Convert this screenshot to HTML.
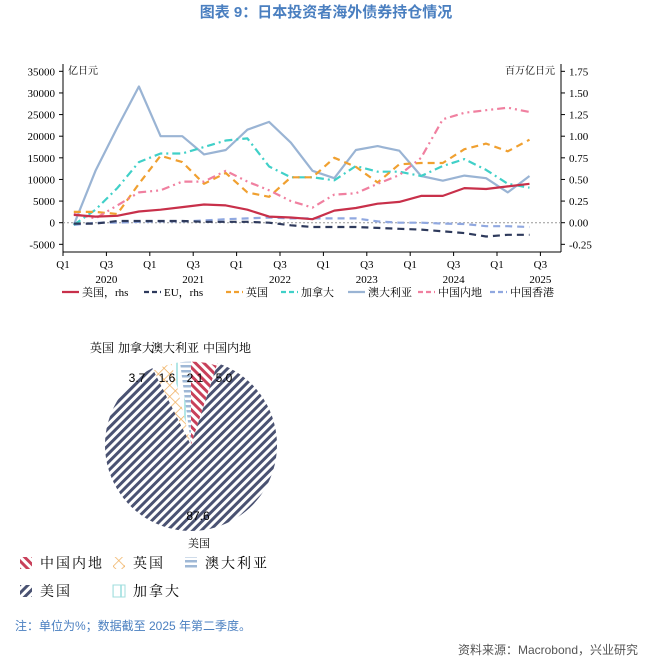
<!DOCTYPE html>
<html><head><meta charset="utf-8"><style>
body{margin:0;background:#fff;width:653px;height:660px;overflow:hidden;font-family:"Liberation Sans","Noto Sans CJK SC",sans-serif;}
svg text{font-family:"Liberation Serif","Noto Serif CJK SC","Noto Sans CJK SC",serif;}
</style></head><body>
<svg id="c" width="653" height="660" xmlns="http://www.w3.org/2000/svg">
<defs>
<pattern id="pUS" width="6" height="6" patternUnits="userSpaceOnUse" patternTransform="rotate(45)"><rect width="6" height="6" fill="#fff"/><rect width="3" height="6" fill="#4a5272"/></pattern>
<pattern id="pCN" width="6" height="6" patternUnits="userSpaceOnUse" patternTransform="rotate(-45)"><rect width="6" height="6" fill="#fff"/><rect width="3" height="6" fill="#c8405a"/></pattern>
<pattern id="pUK" width="8" height="8" patternUnits="userSpaceOnUse" patternTransform="rotate(45)"><rect width="8" height="8" fill="#fff"/><line x1="0" y1="0" x2="8" y2="0" stroke="#f0b060" stroke-width="1.5"/><line x1="0" y1="0" x2="0" y2="8" stroke="#f0b060" stroke-width="1.5"/></pattern>
<pattern id="pCA" width="8" height="8" patternUnits="userSpaceOnUse"><rect width="8" height="8" fill="#fff"/><line x1="1" y1="0" x2="1" y2="8" stroke="#7fd6d6" stroke-width="1.2"/></pattern>
<pattern id="pAU" width="6" height="5" patternUnits="userSpaceOnUse"><rect width="6" height="5" fill="#fff"/><rect y="0" width="6" height="2.5" fill="#9fb8d6"/></pattern>
</defs>
<text x="326" y="17" text-anchor="middle" font-size="15" font-weight="bold" fill="#4a7fc0" style="font-family:'Liberation Sans','Noto Sans CJK SC',sans-serif">图表 9：日本投资者海外债券持仓情况</text>
<g id="line"></g>
<g id="pie"></g>
<text x="15" y="630" font-size="12" fill="#4a7fc0" style="font-family:'Liberation Sans','Noto Sans CJK SC',sans-serif">注：单位为%；数据截至 2025 年第二季度。</text>
<text x="638" y="654" text-anchor="end" font-size="12" fill="#555" style="font-family:'Liberation Sans','Noto Sans CJK SC',sans-serif">资料来源：Macrobond，兴业研究</text>
</svg>
<script>
const lhsTicks=[35000,30000,25000,20000,15000,10000,5000,0,-5000];
const rhsTicks=[1.75,1.5,1.25,1.0,0.75,0.5,0.25,0,-0.25];
const xLabels=["Q1","Q3","Q1","Q3","Q1","Q3","Q1","Q3","Q1","Q3","Q1","Q3"];
const years=["2020","2021","2022","2023","2024","2025"];
const usRhs=[0.09,0.07,0.08,0.13,0.15,0.18,0.21,0.20,0.15,0.07,0.06,0.04,0.14,0.17,0.22,0.24,0.31,0.31,0.40,0.39,0.42,0.45];
const euRhs=[-0.01,-0.01,0.02,0.02,0.02,0.02,0.01,0.01,0.01,0.0,-0.03,-0.05,-0.05,-0.05,-0.06,-0.07,-0.08,-0.10,-0.12,-0.16,-0.14,-0.14];
const uk=[2500,2500,2000,9000,15500,14000,9000,11500,7000,6000,10500,10500,15000,12900,9300,13500,13800,13800,17000,18300,16500,19200];
const canada=[-500,3000,8000,14000,16000,16000,17500,19000,19500,13000,10500,10500,9800,13100,11800,11800,10800,13100,14700,12200,9000,8100];
const australia=[-500,12000,22000,31500,20000,20000,15800,16800,21500,23300,18500,12000,10300,16800,17700,16650,10800,9700,10900,10300,7000,10800];
const chinaMainland=[2000,1000,4000,7000,7500,9500,9500,12000,9500,7500,5000,3500,6500,6800,9000,11000,15000,23900,25400,26000,26600,25600];
const hongKong=[-500,0,0,200,300,300,500,800,1000,1200,1000,1000,1000,1000,300,0,0,-200,-300,-800,-800,-1000];
const pieLabels=["中国内地","美国","英国","加拿大","澳大利亚"];
const pieValues=[5.0,87.6,3.7,1.6,2.1];

const NS="http://www.w3.org/2000/svg";
function mk(t,a,p){const e=document.createElementNS(NS,t);for(const k in a)e.setAttribute(k,a[k]);p.appendChild(e);return e;}
const L=document.getElementById('line');
const X0=63,X1=561,QW=21.7,Y0=222.7,PX=173/40000;
const xq=q=>X0+q*QW;
const yl=v=>Y0-v*PX;
const yr=v=>Y0-v*PX*20000;
let e=mk('line',{x1:X0,y1:64,x2:X0,y2:252,stroke:'#000'},L);
e=mk('line',{x1:X1,y1:64,x2:X1,y2:252,stroke:'#000'},L);
e=mk('line',{x1:X0,y1:252,x2:X1,y2:252,stroke:'#000'},L);
e=mk('line',{x1:X0,y1:Y0,x2:X1,y2:Y0,stroke:'#999','stroke-dasharray':'2,2'},L);
lhsTicks.forEach(v=>{const y=yl(v);mk('line',{x1:X0-4,y1:y,x2:X0,y2:y,stroke:'#000'},L);const t=mk('text',{x:X0-8,y:y+4,'text-anchor':'end','font-size':11},L);t.textContent=v;});
rhsTicks.forEach(v=>{const y=yr(v);mk('line',{x1:X1,y1:y,x2:X1+4,y2:y,stroke:'#000'},L);const t=mk('text',{x:X1+8,y:y+4,'font-size':11},L);t.textContent=v.toFixed(2);});
xLabels.forEach((s,i)=>{const x=xq(i*2);mk('line',{x1:x,y1:252,x2:x,y2:256,stroke:'#000'},L);const t=mk('text',{x:x,y:268,'text-anchor':'middle','font-size':11},L);t.textContent=s;});
years.forEach((s,i)=>{const t=mk('text',{x:xq(i*4+2),y:283,'text-anchor':'middle','font-size':11},L);t.textContent=s;});
e=mk('text',{x:68,y:74,'font-size':10},L);e.textContent='亿日元';
e=mk('text',{x:555,y:74,'font-size':10,'text-anchor':'end'},L);e.textContent='百万亿日元';
const series=[
 {n:'美国，rhs',d:usRhs,f:yr,c:'#c8304a',da:'',name:'series-us'},
 {n:'EU，rhs',d:euRhs,f:yr,c:'#2e3a5c',da:'7,5',name:'series-eu'},
 {n:'英国',d:uk,f:yl,c:'#f0a030',da:'7,5',name:'series-uk'},
 {n:'加拿大',d:canada,f:yl,c:'#40d0c8',da:'8,4,2,4',name:'series-canada'},
 {n:'澳大利亚',d:australia,f:yl,c:'#9ab4d4',da:'',name:'series-australia'},
 {n:'中国内地',d:chinaMainland,f:yl,c:'#f080a0',da:'8,4,2,4,2,4',name:'series-china-mainland'},
 {n:'中国香港',d:hongKong,f:yl,c:'#90a8e0',da:'7,5',name:'series-hong-kong'}];
const order=[6,4,3,2,5,1,0];
order.forEach(k=>{const s=series[k];const pts=s.d.map((v,i)=>xq(i+0.5).toFixed(1)+','+s.f(v).toFixed(1)).join(' ');
 const p=mk('polyline',{points:pts,fill:'none',stroke:s.c,'stroke-width':2.2,'stroke-dasharray':s.da,'stroke-linejoin':'round'},L);
 });
const lx=[62,144,226,281,348,418,490];
series.forEach((s,i)=>{const g=mk('g',{},L);
 mk('line',{x1:lx[i],y1:292,x2:lx[i]+17,y2:292,stroke:s.c,'stroke-width':2.2,'stroke-dasharray':s.da?'5,3':''},g);
 const t=mk('text',{x:lx[i]+20,y:296,'font-size':11},g);t.textContent=s.n;});
const P=document.getElementById('pie');
const cx=191,cy=445,r=86;const fills=['url(#pCN)','url(#pUS)','url(#pUK)','url(#pCA)','url(#pAU)'];
const tot=pieValues.reduce((a,b)=>a+b,0);let a0=0;
pieValues.forEach((v,i)=>{const a1=a0+v/tot*2*Math.PI;const rr=i==1?r:r*0.97;
 const p1=[cx+rr*Math.sin(a0),cy-rr*Math.cos(a0)],p2=[cx+rr*Math.sin(a1),cy-rr*Math.cos(a1)];
 const s=mk('path',{d:`M${cx},${cy}L${p1[0]},${p1[1]}A${rr},${rr} 0 ${a1-a0>Math.PI?1:0} 1 ${p2[0]},${p2[1]}Z`,fill:fills[i]},P);
 a0=a1;});
const tops=[[90,'英国'],[118,'加拿大'],[151,'澳大利亚'],[203,'中国内地']];
tops.forEach(t=>{const e=mk('text',{x:t[0],y:352,'font-size':12},P);e.textContent=t[1];});
const vl=[[224,pieValues[0]],[198,pieValues[1]],[137,pieValues[2]],[167,pieValues[3]],[195,pieValues[4]]];
vl.forEach((t,i)=>{const e=mk('text',{x:t[0],y:i==1?520:382,'text-anchor':'middle','font-size':12,style:"font-family:'Liberation Sans',sans-serif"},P);e.textContent=t[1].toFixed(1);});
e=mk('text',{x:199,y:547,'text-anchor':'middle','font-size':11},P);e.textContent='美国';
const leg=[[20,568,0],[113,568,2],[185,568,4],[20,596,1],[113,596,3]];
leg.forEach(l=>{const g=mk('g',{},P);
 mk('rect',{x:l[0],y:l[1]-11,width:12,height:12,fill:fills[l[2]],stroke:l[2]==3?'#a0dede':'none'},g);
 const t=mk('text',{x:l[0]+20,y:l[1],'font-size':14,'letter-spacing':2},g);t.textContent=pieLabels[l[2]];});
</script>
</body></html>
